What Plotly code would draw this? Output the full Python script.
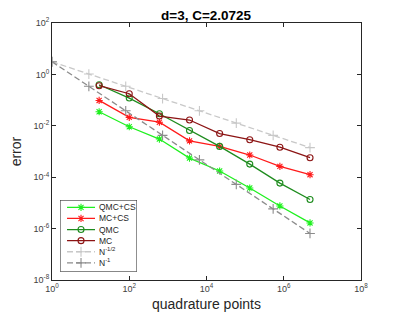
import plotly.graph_objects as go

# quadrature points for the methods
n_points = [16.6, 100, 603, 3631, 21878, 131826, 794328, 4790000]
qmc_cs = [0.0352, 9.2e-3, 3.05e-3, 5.56e-4, 1.74e-4, 3.8e-5, 7.6e-6, 1.66e-6]
mc_cs = [0.097, 0.0212, 0.01377, 2.58e-3, 1.58e-3, 7.3e-4, 2.63e-4, 1.25e-4]
qmc = [0.396, 0.12, 0.0295, 6.6e-3, 1.58e-3, 3.24e-4, 5.9e-5, 1.36e-5]
mc = [0.362, 0.177, 0.024, 0.0168, 5.0e-3, 2.88e-3, 1.47e-3, 5.75e-4]

# reference rates
ref_n = [1, 9, 81, 729, 6561, 59049, 531441, 4782969]
ref_half = [3.1, 1.033, 0.344, 0.1148, 0.0383, 0.01276, 4.25e-3, 1.42e-3]
ref_one = [3.1, 0.344, 0.0383, 4.25e-3, 4.72e-4, 5.25e-5, 5.83e-6, 6.48e-7]

series_names = ["QMC+CS", "MC+CS", "QMC", "MC", "N<sup>-1/2</sup>", "N<sup>-1</sup>"]

x_tickvals = [1, 1e2, 1e4, 1e6, 1e8]
x_ticktext = ["10<sup>0</sup>", "10<sup>2</sup>", "10<sup>4</sup>", "10<sup>6</sup>", "10<sup>8</sup>"]
y_tickvals = [1e-8, 1e-6, 1e-4, 1e-2, 1, 1e2]
y_ticktext = ["10<sup>-8</sup>", "10<sup>-6</sup>", "10<sup>-4</sup>", "10<sup>-2</sup>", "10<sup>0</sup>", "10<sup>2</sup>"]

styles = [
    dict(color="#1EF01E", symbol="asterisk-open", dash="solid", size=6),
    dict(color="#FF1A1A", symbol="asterisk-open", dash="solid", size=6),
    dict(color="#1E8C1E", symbol="circle-open", dash="solid", size=6),
    dict(color="#8C1414", symbol="circle-open", dash="solid", size=6),
    dict(color="#C8C8C8", symbol="cross-thin-open", dash="6px,3px", size=7),
    dict(color="#8C8C8C", symbol="cross-thin-open", dash="6px,3px", size=7),
]
data_x = [n_points, n_points, n_points, n_points, ref_n, ref_n]
data_y = [qmc_cs, mc_cs, qmc, mc, ref_half, ref_one]

fig = go.Figure()

for name, st, xs, ys in zip(series_names, styles, data_x, data_y):
    fig.add_trace(go.Scatter(
        x=xs, y=ys, name=name, mode="lines+markers", showlegend=False,
        line=dict(color=st["color"], width=1.3, dash=st["dash"]),
        marker=dict(symbol=st["symbol"], size=st["size"], color=st["color"],
                    line=dict(color=st["color"], width=1.1)),
    ))

# custom compact legend drawn on an overlay axis (MATLAB style)
leg_annotations = []
for k, (name, st) in enumerate(zip(series_names, styles)):
    yk = 7.3 + 11.1 * k
    fig.add_trace(go.Scatter(
        x=[7, 21, 35], y=[yk, yk, yk], xaxis="x2", yaxis="y2", mode="lines",
        line=dict(color=st["color"], width=1.3, dash=st["dash"]),
        showlegend=False, hoverinfo="skip",
    ))
    fig.add_trace(go.Scatter(
        x=[21], y=[yk], xaxis="x2", yaxis="y2", mode="markers",
        marker=dict(symbol=st["symbol"], size=st["size"], color=st["color"],
                    line=dict(color=st["color"], width=1.1)),
        showlegend=False, hoverinfo="skip",
    ))
    leg_annotations.append(dict(
        text=name, xref="x2", yref="y2", x=37, y=yk, xanchor="left", yanchor="middle",
        showarrow=False, font=dict(size=8.5, color="#262626"),
    ))

axis_common = dict(
    type="log", showgrid=False, zeroline=False, showline=True, mirror="ticks",
    linecolor="#262626", linewidth=1, ticks="inside", ticklen=4, tickcolor="#262626",
    tickfont=dict(family="Liberation Sans, Arial, sans-serif", size=9, color="#404040"),
)

fig.update_layout(
    width=399, height=315,
    margin=dict(l=52, r=38, t=23, b=35),
    paper_bgcolor="white", plot_bgcolor="white",
    font=dict(family="Liberation Sans, Arial, sans-serif", color="#262626"),
    xaxis=dict(range=[0, 8], tickvals=x_tickvals, ticktext=x_ticktext, **axis_common),
    yaxis=dict(range=[-8, 2], tickvals=y_tickvals, ticktext=y_ticktext, **axis_common),
    xaxis2=dict(domain=[0.026, 0.275], range=[0, 77], visible=False, anchor="y2"),
    yaxis2=dict(domain=[0.032, 0.311], range=[71.7, 0], visible=False, anchor="x2"),
    showlegend=False,
    shapes=[dict(type="rect", xref="x2", yref="y2", x0=0, x1=77, y0=0, y1=71.7,
                 fillcolor="white", line=dict(color="#262626", width=1), layer="below")],
    annotations=[
        dict(text="<b>d=3, C=2.0725</b>", xref="paper", yref="paper", x=0.5, y=1.031,
             xanchor="center", yanchor="middle", showarrow=False,
             font=dict(size=13.5, color="black")),
        dict(text="quadrature points", xref="paper", yref="paper", x=0.5, y=-0.093,
             xanchor="center", yanchor="middle", showarrow=False,
             font=dict(size=14, color="#262626")),
        dict(text="error", xref="paper", yref="paper", x=-0.117, y=0.5, textangle=-90,
             xanchor="center", yanchor="middle", showarrow=False,
             font=dict(size=14, color="#262626")),
    ] + leg_annotations,
)

fig.write_html("out.html", config={"displayModeBar": False},
               post_script="document.body.style.margin='0';")
